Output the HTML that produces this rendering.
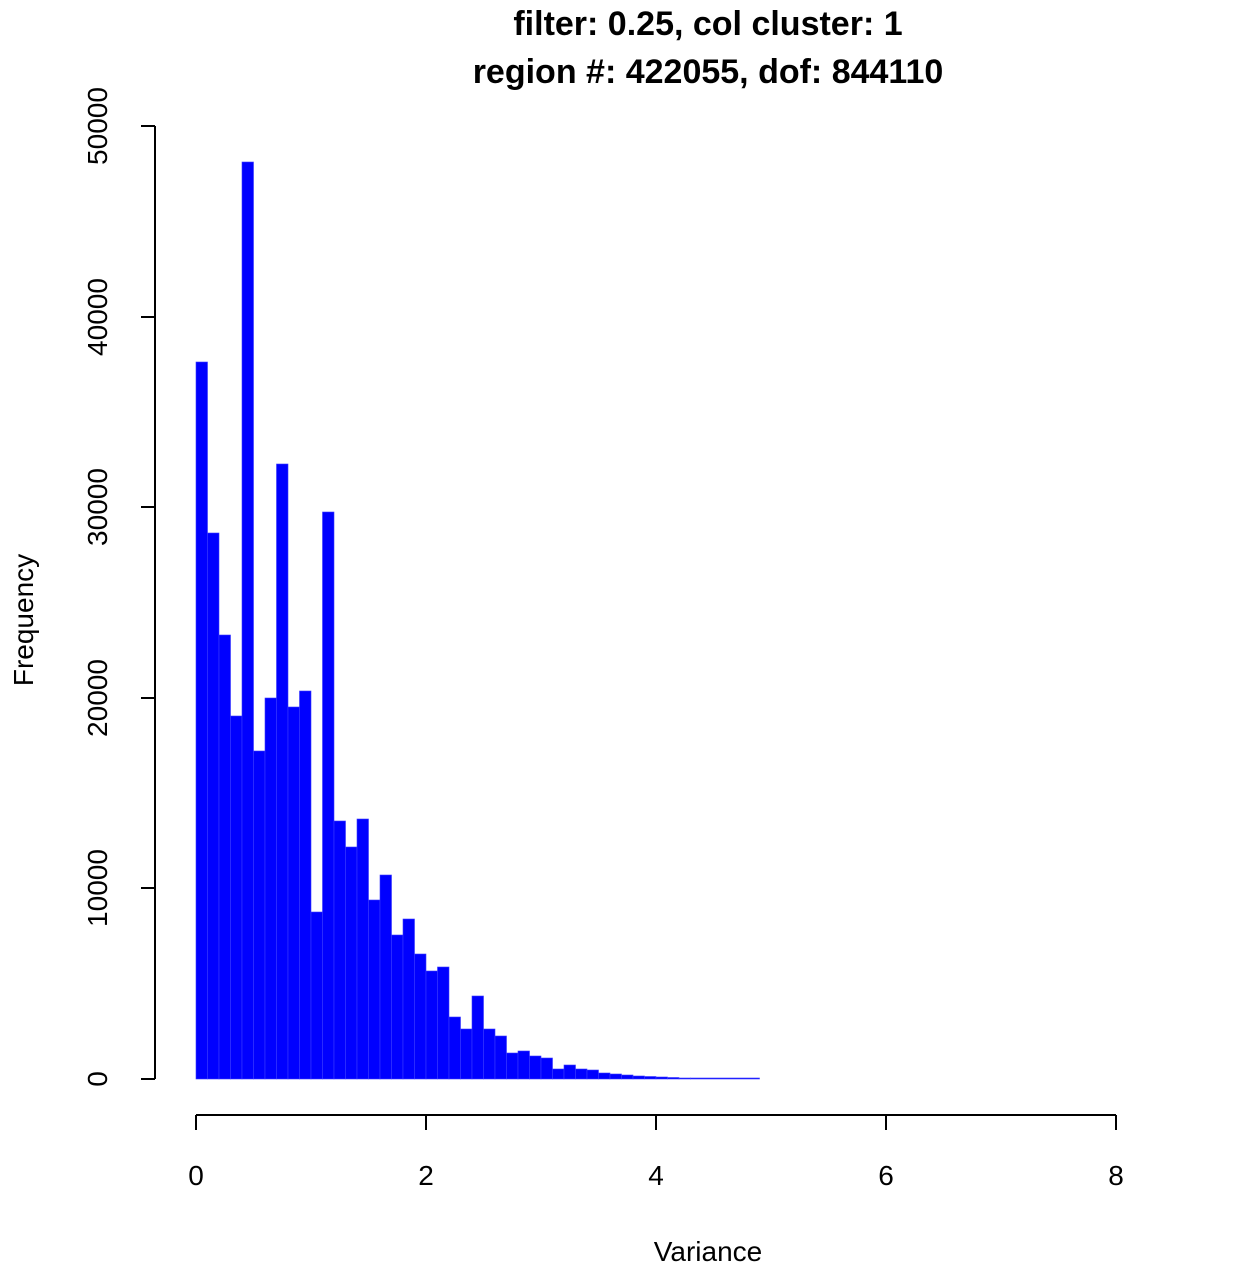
<!DOCTYPE html>
<html><head><style>body{margin:0;background:#fff}svg{display:block}</style></head>
<body>
<svg width="1254" height="1274" xmlns="http://www.w3.org/2000/svg" font-family="Liberation Sans, Arial, sans-serif">
<text x="708" y="35" font-size="34" font-weight="bold" text-anchor="middle">filter: 0.25, col cluster: 1</text>
<text x="708" y="83" font-size="34" font-weight="bold" text-anchor="middle">region #: 422055, dof: 844110</text>
<g fill="#0000ff" stroke="#3a3aff" stroke-width="0.6">
<rect x="196" y="362" width="11.5" height="717"/>
<rect x="207.5" y="533" width="11.5" height="546"/>
<rect x="219" y="635" width="11.5" height="444"/>
<rect x="230.5" y="716" width="11.5" height="363"/>
<rect x="242" y="162" width="11.5" height="917"/>
<rect x="253.5" y="751" width="11.5" height="328"/>
<rect x="265" y="698" width="11.5" height="381"/>
<rect x="276.5" y="464" width="11.5" height="615"/>
<rect x="288" y="707" width="11.5" height="372"/>
<rect x="299.5" y="691" width="11.5" height="388"/>
<rect x="311" y="912" width="11.5" height="167"/>
<rect x="322.5" y="512" width="11.5" height="567"/>
<rect x="334" y="821" width="11.5" height="258"/>
<rect x="345.5" y="847" width="11.5" height="232"/>
<rect x="357" y="819" width="11.5" height="260"/>
<rect x="368.5" y="900" width="11.5" height="179"/>
<rect x="380" y="875" width="11.5" height="204"/>
<rect x="391.5" y="935" width="11.5" height="144"/>
<rect x="403" y="919" width="11.5" height="160"/>
<rect x="414.5" y="954" width="11.5" height="125"/>
<rect x="426" y="971" width="11.5" height="108"/>
<rect x="437.5" y="967" width="11.5" height="112"/>
<rect x="449" y="1017" width="11.5" height="62"/>
<rect x="460.5" y="1029" width="11.5" height="50"/>
<rect x="472" y="996" width="11.5" height="83"/>
<rect x="483.5" y="1029" width="11.5" height="50"/>
<rect x="495" y="1036" width="11.5" height="43"/>
<rect x="506.5" y="1053" width="11.5" height="26"/>
<rect x="518" y="1051" width="11.5" height="28"/>
<rect x="529.5" y="1056" width="11.5" height="23"/>
<rect x="541" y="1058" width="11.5" height="21"/>
<rect x="552.5" y="1069" width="11.5" height="10"/>
<rect x="564" y="1065" width="11.5" height="14"/>
<rect x="575.5" y="1069" width="11.5" height="10"/>
<rect x="587" y="1070" width="11.5" height="9"/>
<rect x="598.5" y="1073" width="11.5" height="6"/>
<rect x="610" y="1074" width="11.5" height="5"/>
<rect x="621.5" y="1075" width="11.5" height="4"/>
<rect x="633" y="1076" width="11.5" height="3"/>
<rect x="644.5" y="1076.5" width="11.5" height="2.5"/>
<rect x="656" y="1077" width="11.5" height="2"/>
<rect x="667.5" y="1077.5" width="11.5" height="1.5"/>
<rect x="679" y="1078" width="11.5" height="1"/>
<rect x="690.5" y="1078" width="69" height="1"/>
</g>
<g stroke="#000" stroke-width="2" fill="none">
<line x1="155" y1="126" x2="155" y2="1079"/>
<line x1="155" y1="1079" x2="141" y2="1079"/>
<line x1="155" y1="888" x2="141" y2="888"/>
<line x1="155" y1="698" x2="141" y2="698"/>
<line x1="155" y1="507" x2="141" y2="507"/>
<line x1="155" y1="317" x2="141" y2="317"/>
<line x1="155" y1="126" x2="141" y2="126"/>
<line x1="196" y1="1115" x2="1116" y2="1115"/>
<line x1="196" y1="1115" x2="196" y2="1130"/>
<line x1="426" y1="1115" x2="426" y2="1130"/>
<line x1="656" y1="1115" x2="656" y2="1130"/>
<line x1="886" y1="1115" x2="886" y2="1130"/>
<line x1="1116" y1="1115" x2="1116" y2="1130"/>
</g>
<g font-size="28" text-anchor="middle">
<text x="196" y="1185">0</text><text x="426" y="1185">2</text><text x="656" y="1185">4</text><text x="886" y="1185">6</text><text x="1116" y="1185">8</text>
<text x="708" y="1261">Variance</text>
<text transform="translate(107,1079) rotate(-90)">0</text>
<text transform="translate(107,888) rotate(-90)">10000</text>
<text transform="translate(107,698) rotate(-90)">20000</text>
<text transform="translate(107,507) rotate(-90)">30000</text>
<text transform="translate(107,317) rotate(-90)">40000</text>
<text transform="translate(107,126) rotate(-90)">50000</text>
<text transform="translate(33,620) rotate(-90)">Frequency</text>
</g>
</svg>
</body></html>
